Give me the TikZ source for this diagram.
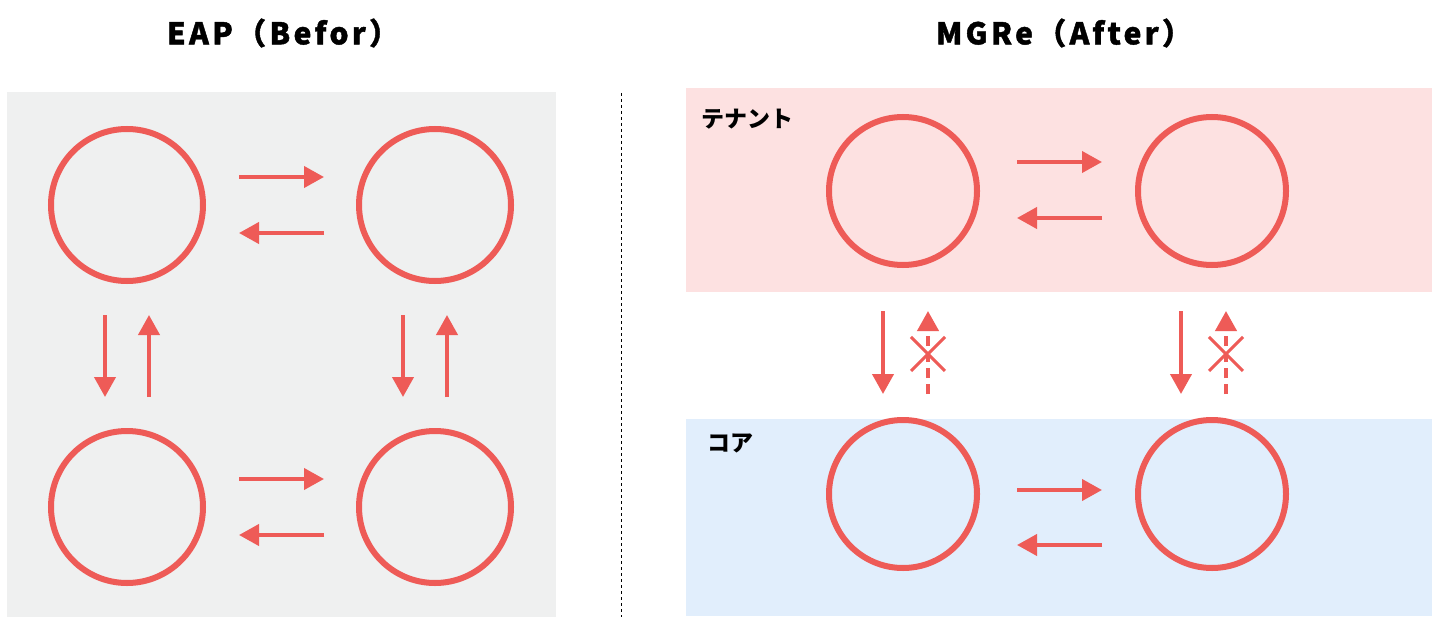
\documentclass[tikz,border=0pt]{standalone}
\usepackage{fontspec}
\usepackage{tikz}
\usetikzlibrary{arrows.meta, positioning, calc, shapes.misc}
\newfontfamily\jpfont{Noto Sans CJK JP}
\definecolor{ringred}{RGB}{238, 91, 87}
\definecolor{panelgray}{RGB}{239, 240, 240}
\definecolor{tenantpink}{RGB}{253, 225, 225}
\definecolor{coreblue}{RGB}{225, 238, 252}
\tikzset{
  ring/.style={circle, draw=ringred, line width=6pt, inner sep=0pt, outer sep=0pt},
  ringwide/.style={ring, minimum size=152pt},
  ringnarrow/.style={ring, minimum size=148pt},
  flowarrow/.style={-{Triangle[length=20pt, width=21pt]}, line width=4pt, ringred},
  blockedarrow/.style={flowarrow, dash pattern=on 10pt off 6pt},
  blockmark/.style={cross out, draw=ringred, solid, line width=3pt, minimum width=31pt, minimum height=31pt, inner sep=0pt},
  heading/.style={font=\jpfont\bfseries\addfontfeatures{LetterSpace=11, FakeBold=1.4}\fontsize{30}{36}\selectfont},
  arealabel/.style={font=\jpfont\bfseries\fontsize{23}{27}\selectfont, anchor=west}
}
\begin{document}
\begin{tikzpicture}[x=1pt, y=-1pt]
    \useasboundingbox[fill=white] (0,0) rectangle (1440,623);

    % backgrounds
    \fill[panelgray] (7,92) rectangle (556,617);
    \fill[tenantpink] (686,88) rectangle (1432,292);
    \fill[coreblue] (686,419) rectangle (1432,616);
    \draw[black, line width=1pt, dash pattern=on 3pt off 3pt] (621,93) -- (621,617);

    % titles
    \node (before) [heading] at (283,33) {EAP（Befor）};
    \node (after) [heading] at (1064,33) {MGRe（After）};
    \node (tenant) [arealabel] at (698,119) {テナント};
    \node (core) [arealabel] at (704,443) {コア};

    % EAP
    \node (lt) [ringwide] at (127,205) {};
    \node (rt) [ringwide] at (435,205) {};
    \node (lb) [ringwide] at (127,507) {};
    \node (rb) [ringwide] at (435,507) {};

    \draw[flowarrow, shorten <=36pt, shorten >=35pt] ([yshift=28pt]lt.east) -- ([yshift=28pt]rt.west);
    \draw[flowarrow, shorten <=35pt, shorten >=36pt] ([yshift=-28pt]rt.west) -- ([yshift=-28pt]lt.east);
    \draw[flowarrow, shorten <=36pt, shorten >=35pt] ([yshift=28pt]lb.east) -- ([yshift=28pt]rb.west);
    \draw[flowarrow, shorten <=35pt, shorten >=36pt] ([yshift=-28pt]rb.west) -- ([yshift=-28pt]lb.east);

    \draw[flowarrow, shorten <=34pt, shorten >=34pt] ([xshift=-22pt]lt.south) -- ([xshift=-22pt]lb.north);
    \draw[flowarrow, shorten <=34pt, shorten >=34pt] ([xshift=22pt]lb.north) -- ([xshift=22pt]lt.south);
    \draw[flowarrow, shorten <=34pt, shorten >=34pt] ([xshift=-32pt]rt.south) -- ([xshift=-32pt]rb.north);
    \draw[flowarrow, shorten <=34pt, shorten >=34pt] ([xshift=12pt]rb.north) -- ([xshift=12pt]rt.south);

    % MGRe
    \node (tl) [ringnarrow] at (903,191) {};
    \node (tr) [ringnarrow] at (1212,191) {};
    \node (cl) [ringnarrow] at (903,494) {};
    \node (cr) [ringnarrow] at (1212,494) {};

    \draw[flowarrow, shorten <=40pt, shorten >=36pt] ([yshift=29pt]tl.east) -- ([yshift=29pt]tr.west);
    \draw[flowarrow, shorten <=36pt, shorten >=40pt] ([yshift=-27pt]tr.west) -- ([yshift=-27pt]tl.east);
    \draw[flowarrow, shorten <=40pt, shorten >=36pt] ([yshift=4pt]cl.east) -- ([yshift=4pt]cr.west);
    \draw[flowarrow, shorten <=36pt, shorten >=40pt] ([yshift=-51pt]cr.west) -- ([yshift=-51pt]cl.east);

    \draw[flowarrow, shorten <=46pt, shorten >=26pt] ([xshift=-20pt]tl.south) -- ([xshift=-20pt]cl.north);
    \draw[blockedarrow, shorten <=26pt, shorten >=46pt] ([xshift=25pt]cl.north) -- ([xshift=25pt]tl.south);
    \node (xl) [blockmark] at ($([xshift=25pt]cl.north)!0.426!([xshift=25pt]tl.south)$) {};
    \draw[flowarrow, shorten <=46pt, shorten >=26pt] ([xshift=-31pt]tr.south) -- ([xshift=-31pt]cr.north);
    \draw[blockedarrow, shorten <=26pt, shorten >=46pt] ([xshift=14pt]cr.north) -- ([xshift=14pt]tr.south);
    \node (xr) [blockmark] at ($([xshift=14pt]cr.north)!0.426!([xshift=14pt]tr.south)$) {};
\end{tikzpicture}
\end{document}
